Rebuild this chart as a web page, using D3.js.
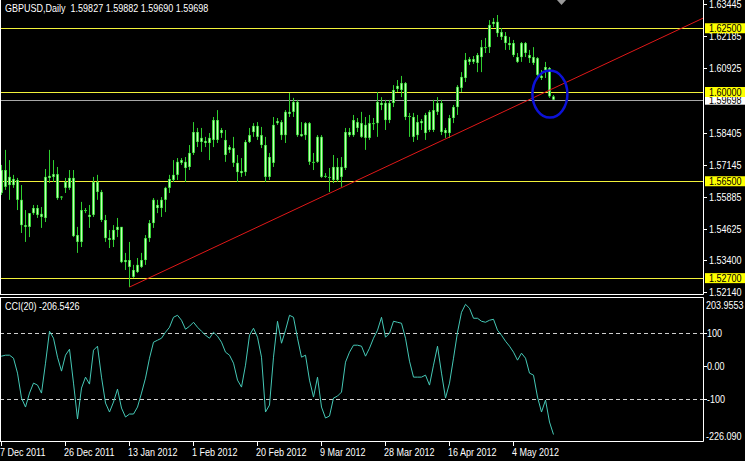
<!DOCTYPE html>
<html><head><meta charset="utf-8">
<script src="https://cdn.jsdelivr.net/npm/d3@7"></script>
<style>
html,body{margin:0;padding:0;background:#000;overflow:hidden}
text{font-family:'Liberation Sans',Arial,sans-serif;font-size:11px}
</style>
</head><body><svg id="c" width="745" height="461"></svg>
<script>
// ---------- DATA ----------
const symbolTitle = "GBPUSD,Daily  1.59827 1.59882 1.59690 1.59698";
const cciTitle = "CCI(20) -206.5426";
const open = [1.5694,1.5628,1.5667,1.5635,1.5655,1.5577,1.5478,1.5471,1.5525,1.5545,
1.5522,1.5506,1.5663,1.5667,1.5678,1.5590,1.5624,1.5624,1.5663,1.5439,
1.5412,1.5537,1.5518,1.5518,1.5647,1.5608,1.5498,1.5427,1.5420,1.5459,
1.5471,1.5341,1.5314,1.5302,1.5294,1.5314,1.5341,1.5427,1.5486,1.5545,
1.5545,1.5577,1.5624,1.5655,1.5675,1.5722,1.5726,1.5706,1.5761,1.5843,
1.5804,1.5808,1.5800,1.5812,1.5890,1.5839,1.5812,1.5773,1.5780,1.5722,
1.5690,1.5686,1.5804,1.5843,1.5867,1.5831,1.5792,1.5667,1.5722,1.5886,
1.5831,1.5831,1.5914,1.5922,1.5961,1.5835,1.5831,1.5878,1.5726,1.5726,
1.5824,1.5671,1.5667,1.5655,1.5706,1.5667,1.5702,1.5843,1.5831,1.5882,
1.5824,1.5871,1.5820,1.5874,1.5878,1.5957,1.5957,1.5890,1.5957,1.6012,
1.6008,1.6035,1.5906,1.5902,1.5831,1.5886,1.5839,1.5922,1.5851,1.5922,
1.5957,1.5851,1.5839,1.5898,1.5941,1.6016,1.6055,1.6118,1.6129,1.6114,
1.6137,1.6176,1.6176,1.6267,1.6275,1.6235,1.6220,1.6192,1.6192,1.6137,
1.6137,1.6192,1.6145,1.6137,1.6133,1.6063,1.6086,1.6094,1.59827];
const high = [1.5714,1.5773,1.5733,1.5675,1.5663,1.5635,1.5537,1.5525,1.5557,1.5557,
1.5549,1.5698,1.5773,1.5733,1.5706,1.5592,1.5663,1.5694,1.5694,1.5471,
1.5569,1.5545,1.5557,1.5667,1.5675,1.5616,1.5518,1.5459,1.5478,1.5506,
1.5471,1.5369,1.5412,1.5322,1.5349,1.5369,1.5439,1.5498,1.5584,1.5577,
1.5588,1.5628,1.5675,1.5733,1.5741,1.5741,1.5745,1.5792,1.5882,1.5859,
1.5859,1.5824,1.5839,1.5902,1.5929,1.5859,1.5851,1.5792,1.5824,1.5753,
1.5741,1.5812,1.5859,1.5878,1.5882,1.5863,1.5824,1.5761,1.5902,1.5898,
1.5890,1.5929,1.5996,1.5977,1.5969,1.5882,1.5882,1.5882,1.5761,1.5831,
1.5831,1.5682,1.5702,1.5753,1.5741,1.5745,1.5859,1.5859,1.5910,1.5898,
1.5922,1.5902,1.5910,1.5898,1.6000,1.5980,1.5969,1.5969,1.6027,1.6047,
1.6063,1.6039,1.5918,1.5918,1.5910,1.5894,1.5918,1.5929,1.5969,1.5980,
1.5969,1.5859,1.5910,1.5949,1.6027,1.6078,1.6153,1.6137,1.6141,1.6153,
1.6204,1.6212,1.6282,1.6290,1.6302,1.6251,1.6235,1.6216,1.6204,1.6153,
1.6196,1.6196,1.6165,1.6176,1.6137,1.6086,1.6118,1.6098,1.59882];
const low = [1.5596,1.5616,1.5577,1.5624,1.5537,1.5447,1.5412,1.5431,1.5518,1.5506,
1.5467,1.5490,1.5643,1.5647,1.5577,1.5577,1.5604,1.5616,1.5431,1.5369,
1.5392,1.5525,1.5467,1.5510,1.5577,1.5490,1.5412,1.5388,1.5392,1.5431,
1.5329,1.5302,1.5235,1.5271,1.5290,1.5310,1.5322,1.5412,1.5467,1.5525,
1.5510,1.5529,1.5604,1.5647,1.5655,1.5714,1.5647,1.5694,1.5753,1.5784,
1.5765,1.5784,1.5733,1.5784,1.5800,1.5820,1.5726,1.5761,1.5706,1.5647,
1.5667,1.5671,1.5800,1.5824,1.5812,1.5780,1.5647,1.5655,1.5706,1.5871,
1.5812,1.5800,1.5902,1.5902,1.5824,1.5824,1.5812,1.5714,1.5694,1.5722,
1.5663,1.5663,1.5608,1.5643,1.5647,1.5628,1.5694,1.5824,1.5824,1.5843,
1.5820,1.5773,1.5812,1.5851,1.5824,1.5929,1.5851,1.5878,1.5941,1.6000,
1.5980,1.5890,1.5824,1.5804,1.5812,1.5851,1.5812,1.5843,1.5843,1.5910,
1.5831,1.5820,1.5820,1.5878,1.5910,1.6000,1.6039,1.6106,1.6110,1.6078,
1.6078,1.6153,1.6153,1.6255,1.6216,1.6204,1.6165,1.6165,1.6137,1.6114,
1.6118,1.6137,1.6114,1.6106,1.6059,1.6047,1.6055,1.5977,1.59690];
const close = [1.5604,1.5694,1.5635,1.5659,1.5577,1.5478,1.5471,1.5525,1.5545,1.5518,
1.5510,1.5667,1.5671,1.5678,1.5584,1.5586,1.5647,1.5663,1.5435,1.5412,
1.5537,1.5533,1.5510,1.5647,1.5608,1.5498,1.5427,1.5420,1.5459,1.5471,
1.5333,1.5333,1.5341,1.5275,1.5322,1.5341,1.5427,1.5486,1.5577,1.5557,
1.5577,1.5624,1.5659,1.5675,1.5726,1.5733,1.5702,1.5761,1.5843,1.5804,
1.5820,1.5800,1.5820,1.5890,1.5812,1.5851,1.5753,1.5784,1.5722,1.5686,
1.5682,1.5804,1.5831,1.5867,1.5824,1.5792,1.5667,1.5745,1.5871,1.5878,
1.5882,1.5922,1.5922,1.5961,1.5831,1.5827,1.5878,1.5726,1.5722,1.5824,
1.5667,1.5667,1.5663,1.5706,1.5655,1.5706,1.5843,1.5831,1.5890,1.5859,
1.5878,1.5820,1.5878,1.5878,1.5961,1.5949,1.5890,1.5957,1.6008,1.6024,
1.6035,1.5902,1.5902,1.5824,1.5882,1.5878,1.5910,1.5851,1.5929,1.5957,
1.5843,1.5839,1.5898,1.5941,1.6020,1.6059,1.6126,1.6129,1.6118,1.6145,
1.6176,1.6173,1.6263,1.6275,1.6231,1.6216,1.6192,1.6184,1.6145,1.6118,
1.6192,1.6153,1.6133,1.6114,1.6067,1.6055,1.6098,1.5983,1.59698];
// CCI(20), first value belongs to the bar just left of the first visible candle
const cciStartBar = -1;
const cci = [23,29,32,32,23,-22,-97,-124,-82,-52,-58,-82,8,104,83,26,-16,32,50,-52,
-160,-67,-34,-55,47,59,-34,-112,-139,-109,-70,-127,-154,-145,-145,-124,-82,-37,23,71,
77,83,101,116,146,152,137,110,119,131,116,104,92,83,101,89,71,41,32,8,
-43,-64,2,92,113,86,26,-139,-118,26,134,68,107,152,146,83,26,32,-43,-94,
-34,-124,-157,-151,-97,-91,-79,11,41,62,62,59,29,53,83,107,146,86,98,134,
131,128,83,14,-34,-34,-34,-28,-58,2,59,-22,-97,-52,23,101,161,185,173,143,
143,134,131,137,140,107,92,74,59,41,17,38,23,-22,-28,-94,-139,-103,-169,-206.5426];
const dateTickBars = [0,16,32,48,64,80,96,112,128];
const dateTickLabels = ["7 Dec 2011","26 Dec 2011","13 Jan 2012","1 Feb 2012","20 Feb 2012","9 Mar 2012","28 Mar 2012","16 Apr 2012","4 May 2012"];
const priceTicks = [1.63445,1.62185,1.60925,1.58405,1.57145,1.55885,1.54625,1.53400,1.52140];
const priceLevels = [1.62500,1.60000,1.56500,1.52700];
const bidPrice = 1.59698;
const priceDomain = [1.52078, 1.63608];
const cciDomain = [-226.090, 203.9553];
const cciLevels = [100, -100];
const cciTicks = [100, 0, -100];
const cciTickLabels = ["100","0.00","-100"];
const trendBars = [32, 170];
const trendPrices = [1.5235, 1.6250];
const markBar = 137.1, markPrice = 1.5992;

// ---------- LAYOUT ----------
const W = 745, H = 461;
const plotR = 703;
const mainTop = 0, mainBot = 294;
const subTop = 298, subBot = 441;
const SX = 0.82; // horizontal condensation of the terminal font
const svg = d3.select("#c");
svg.append("rect").attr("width",W).attr("height",H).attr("fill","#000");

const x = d3.scaleLinear().domain([0,138]).range([1.5, 553.5]);
const y = d3.scaleLinear().domain(priceDomain).range([mainBot, mainTop]);
const yc = d3.scaleLinear().domain(cciDomain).range([subBot, subTop]);

function label(parent, tx, ty, str, fill){
  return parent.append("text").attr("transform",`translate(${tx},${ty}) scale(${SX},1)`)
    .attr("fill",fill||"#fff").style("white-space","pre").text(str);
}

const defs = svg.append("defs");
defs.append("clipPath").attr("id","cm").append("rect").attr("x",1).attr("y",0).attr("width",plotR-1).attr("height",mainBot);
defs.append("clipPath").attr("id","cs").append("rect").attr("x",1).attr("y",subTop).attr("width",plotR-1).attr("height",subBot-subTop);

const gm = svg.append("g").attr("clip-path","url(#cm)");
// horizontal levels
gm.selectAll("line.lvl").data(priceLevels).join("line")
  .attr("x1",0).attr("x2",plotR).attr("y1",d=>Math.round(y(d))+0.5).attr("y2",d=>Math.round(y(d))+0.5)
  .attr("stroke","#f2f23a").attr("stroke-width",1);
gm.append("line").attr("x1",0).attr("x2",plotR)
  .attr("y1",Math.round(y(bidPrice))+0.5).attr("y2",Math.round(y(bidPrice))+0.5)
  .attr("stroke","#a8a8a8");

// candles
const idx = d3.range(open.length);
gm.selectAll("line.wick").data(idx).join("line")
  .attr("x1",i=>x(i)).attr("x2",i=>x(i))
  .attr("y1",i=>y(high[i])).attr("y2",i=>y(low[i]))
  .attr("stroke","#2fcf2f").attr("stroke-width",1);
gm.selectAll("rect.body").data(idx).join("rect")
  .attr("x",i=>x(i)-1.5).attr("width",3)
  .attr("y",i=>y(Math.max(open[i],close[i])))
  .attr("height",i=>Math.max(1,Math.abs(y(open[i])-y(close[i]))))
  .attr("fill","#36cf36");
gm.selectAll("rect.hl").data(idx).join("rect")
  .attr("x",i=>x(i)-0.5).attr("width",1)
  .attr("y",i=>y(Math.max(open[i],close[i]))+0.5)
  .attr("height",i=>Math.max(0,Math.abs(y(open[i])-y(close[i]))-1))
  .attr("fill","#c6ffb8");

// trendline
const slope = (trendPrices[1]-trendPrices[0])/(trendBars[1]-trendBars[0]);
const tEnd = 180;
gm.append("line")
  .attr("x1",x(trendBars[0])).attr("y1",y(trendPrices[0]))
  .attr("x2",x(tEnd)).attr("y2",y(trendPrices[0]+slope*(tEnd-trendBars[0])))
  .attr("stroke","#e01818").attr("stroke-width",1);

// marker ellipse
gm.append("ellipse").attr("cx",x(markBar)).attr("cy",y(markPrice)).attr("rx",17.5).attr("ry",23.5)
  .attr("fill","none").attr("stroke","#0c12d8").attr("stroke-width",2.5);

// chart shift marker
svg.append("path").attr("d","M557,0 L566,0 L561.5,5 Z").attr("fill","#9a9a9a");

// ---------- CCI ----------
const gs = svg.append("g").attr("clip-path","url(#cs)");
gs.selectAll("line.cl").data(cciLevels).join("line")
  .attr("x1",0).attr("x2",plotR)
  .attr("y1",d=>Math.round(yc(d))+0.5).attr("y2",d=>Math.round(yc(d))+0.5)
  .attr("stroke","#cfcfcf").attr("stroke-dasharray","4,3");
gs.append("path").datum(cci)
  .attr("d",d3.line().x((d,i)=>x(i+cciStartBar)).y(d=>yc(d)))
  .attr("fill","none").attr("stroke","#45c8b6").attr("stroke-width",1);

// ---------- FRAMES ----------
const fr = svg.append("g").attr("stroke","#fff").attr("stroke-width",1).attr("fill","none");
fr.append("line").attr("x1",0).attr("x2",plotR+0.5).attr("y1",mainBot+0.5).attr("y2",mainBot+0.5);
fr.append("line").attr("x1",0).attr("x2",plotR+0.5).attr("y1",subTop-0.5).attr("y2",subTop-0.5);
fr.append("line").attr("x1",0).attr("x2",plotR+0.5).attr("y1",subBot+0.5).attr("y2",subBot+0.5);
fr.append("line").attr("x1",plotR+0.5).attr("x2",plotR+0.5).attr("y1",0).attr("y2",mainBot+0.5);
fr.append("line").attr("x1",plotR+0.5).attr("x2",plotR+0.5).attr("y1",subTop-0.5).attr("y2",subBot+0.5);
fr.append("line").attr("x1",0.5).attr("x2",0.5).attr("y1",0).attr("y2",mainBot+0.5);
fr.append("line").attr("x1",0.5).attr("x2",0.5).attr("y1",subTop-0.5).attr("y2",subBot+0.5);

// ---------- TEXT ----------
label(svg, 5, 12, symbolTitle);
label(svg, 5, 310, cciTitle);

// price axis
const pa = svg.append("g");
pa.selectAll("line").data(priceTicks).join("line")
  .attr("x1",plotR+1).attr("x2",plotR+4).attr("y1",d=>Math.round(y(d))+0.5).attr("y2",d=>Math.round(y(d))+0.5)
  .attr("stroke","#fff");
priceTicks.forEach(d=>label(pa, 709, y(d)+4, d.toFixed(5)));
// bid label
svg.append("rect").attr("x",705).attr("y",y(bidPrice)-5).attr("width",40).attr("height",10).attr("fill","#fff");
label(svg, 709, y(bidPrice)+4, bidPrice.toFixed(5), "#000");
// level labels
const ll = svg.append("g");
priceLevels.forEach(p=>{
  ll.append("rect").attr("x",705).attr("y",y(p)-5).attr("width",40).attr("height",10).attr("fill","#ffff00");
  label(ll, 709, y(p)+4, p.toFixed(5), "#000");
});

// cci axis
svg.selectAll("line.ct").data(cciTicks).join("line")
  .attr("x1",plotR+1).attr("x2",plotR+4).attr("y1",d=>Math.round(yc(d))+0.5).attr("y2",d=>Math.round(yc(d))+0.5)
  .attr("stroke","#fff");
cciTicks.forEach((d,i)=>label(svg, 707, yc(d)+4, cciTickLabels[i]));
label(svg, 706, yc(cciDomain[1])+11, cciDomain[1].toFixed(4));
label(svg, 706, yc(cciDomain[0])-1, cciDomain[0].toFixed(3));

// date axis
svg.selectAll("line.dt").data(dateTickBars).join("line")
  .attr("x1",d=>x(d)).attr("x2",d=>x(d)).attr("y1",subBot+1).attr("y2",subBot+5)
  .attr("stroke","#fff");
dateTickBars.forEach((d,i)=>label(svg, x(d)-1.5, 456, dateTickLabels[i]));
</script>
</body></html>
